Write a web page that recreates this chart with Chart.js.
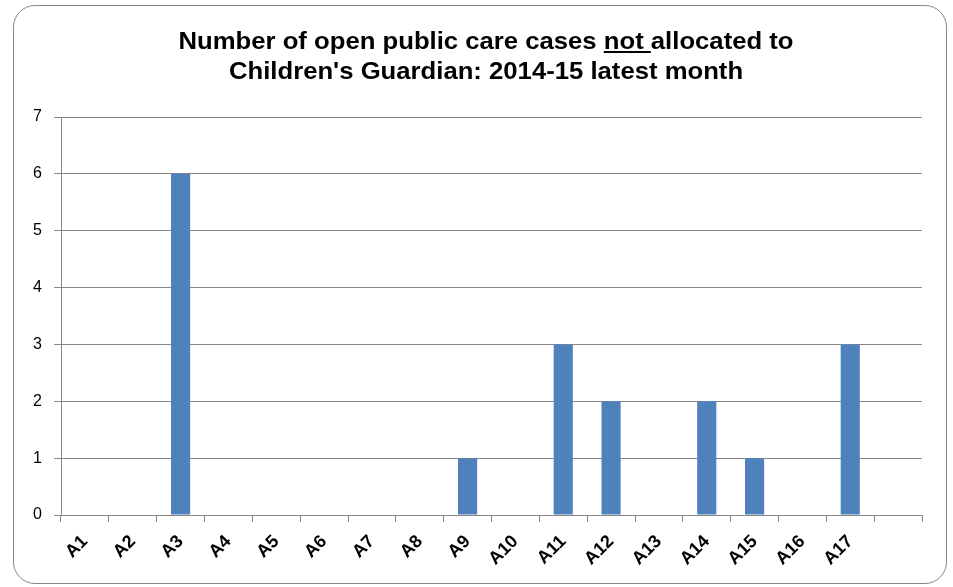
<!DOCTYPE html>
<html lang="en">
<head>
    <meta charset="UTF-8">
    <title>Open public care cases not allocated to Children's Guardian</title>
    <script src="https://cdn.jsdelivr.net/npm/chart.js"></script>
    <style>
        body {
            margin: 0;
            padding: 0;
            background: #ffffff;
            font-family: 'Liberation Sans', Arial, sans-serif;
        }

        .frame {
            position: absolute;
            left: 13px;
            top: 5px;
            width: 932px;
            height: 577px;
            border: 1.5px solid #8a8a8a;
            border-radius: 22px;
        }

        .title {
            position: absolute;
            left: 14px;
            width: 946px;
            top: 26px;
            text-align: center;
            font-weight: bold;
            font-size: 24px;
            line-height: 30px;
            color: #000;
            transform: scaleX(1.07);
            transform-origin: 487px 0;
        }

        .title u {
            text-underline-offset: 2px;
        }

        #chart {
            position: absolute;
            left: 0;
            top: 0;
        }
    </style>
</head>
<body>
    <div class="frame"></div>
    <canvas id="chart" width="953" height="587"></canvas>
    <div class="title">Number of open public care cases <u>not </u>allocated to<br>Children's Guardian: 2014-15 latest month</div>

    <script>
        // Areas A1..A17 plus one empty slot at the end of the axis
        const areas = ['A1', 'A2', 'A3', 'A4', 'A5', 'A6', 'A7', 'A8', 'A9',
                       'A10', 'A11', 'A12', 'A13', 'A14', 'A15', 'A16', 'A17', ''];
        const unallocated = [0, 0, 6, 0, 0, 0, 0, 0, 1, 0, 3, 2, 0, 2, 1, 0, 3, null];
        const yTicks = [0, 1, 2, 3, 4, 5, 6, 7];

        const gridGrey = '#868686';

        const ctx = document.getElementById('chart').getContext('2d');
        new Chart(ctx, {
            type: 'bar',
            data: {
                labels: areas,
                datasets: [{
                    data: unallocated,
                    backgroundColor: '#4f81bd',
                    borderWidth: 0,
                    barPercentage: 0.4,
                    categoryPercentage: 1.0
                }]
            },
            options: {
                responsive: false,
                animation: false,
                layout: {
                    padding: { left: 0, right: 31, top: 117, bottom: 0 }
                },
                plugins: {
                    legend: { display: false },
                    tooltip: { enabled: false }
                },
                scales: {
                    x: {
                        offset: true,
                        grid: {
                            offset: true,
                            drawOnChartArea: false,
                            drawTicks: true,
                            tickLength: 7,
                            color: gridGrey,
                            lineWidth: 1
                        },
                        border: { color: gridGrey, width: 1 },
                        ticks: {
                            autoSkip: false,
                            minRotation: 45,
                            maxRotation: 45,
                            padding: 9,
                            color: '#000',
                            font: { family: "'Liberation Sans', Arial", size: 18, weight: 'bold' }
                        },
                        afterFit: (scale) => { scale.height = 72; }
                    },
                    y: {
                        min: yTicks[0],
                        max: yTicks[yTicks.length - 1],
                        afterBuildTicks: (scale) => {
                            scale.ticks = yTicks.map(v => ({ value: v }));
                        },
                        grid: {
                            color: gridGrey,
                            lineWidth: 1,
                            tickLength: 7
                        },
                        border: { color: gridGrey, width: 1 },
                        ticks: {
                            padding: 12,
                            color: '#000',
                            font: { family: "'Liberation Sans', Arial", size: 16 }
                        },
                        afterFit: (scale) => { scale.width = 61; }
                    }
                }
            }
        });
    </script>
</body>
</html>
